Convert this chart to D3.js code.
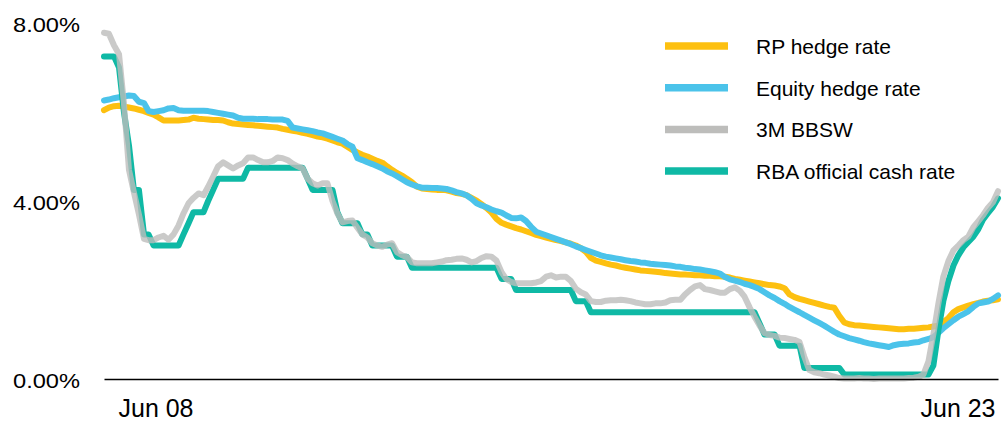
<!DOCTYPE html>
<html>
<head>
<meta charset="utf-8">
<script src="https://cdn.jsdelivr.net/npm/d3@7"></script>
<style>
  html, body { margin: 0; padding: 0; background: #fff; }
  svg { display: block; }
</style>
</head>
<body>
<svg id="chart" width="1002" height="421"></svg>
<script>
// ---- Data (monthly, Jun 2008 .. Jun 2023), values in % ----
const startMonth = "2008-06";
const endMonth = "2023-06";

const seriesNames = ["RP hedge rate", "Equity hedge rate", "3M BBSW", "RBA official cash rate"];

const rpHedge = [
  6.04, 6.10, 6.13, 6.14, 6.12, 6.10, 6.08, 6.05, 6.02, 5.98,
  5.94, 5.88, 5.81, 5.81, 5.81, 5.81, 5.82, 5.83, 5.87, 5.85,
  5.84, 5.83, 5.82, 5.82, 5.81, 5.77, 5.74, 5.73, 5.72, 5.71,
  5.70, 5.69, 5.68, 5.67, 5.66, 5.65, 5.62, 5.60, 5.58, 5.56,
  5.53, 5.51, 5.48, 5.45, 5.43, 5.40, 5.36, 5.32, 5.29, 5.22,
  5.15, 5.09, 5.04, 5.00, 4.95, 4.90, 4.86, 4.78, 4.70, 4.63,
  4.57, 4.50, 4.42, 4.32, 4.28, 4.27, 4.26, 4.25, 4.25, 4.24,
  4.21, 4.18, 4.16, 4.13, 4.07, 4.01, 3.93, 3.84, 3.74, 3.60,
  3.51, 3.47, 3.43, 3.39, 3.36, 3.32, 3.28, 3.24, 3.21, 3.18,
  3.15, 3.12, 3.10, 3.07, 3.04, 3.00, 2.94, 2.86, 2.72, 2.66,
  2.63, 2.60, 2.57, 2.55, 2.52, 2.50, 2.48, 2.46, 2.44, 2.43,
  2.42, 2.41, 2.40, 2.38, 2.37, 2.36, 2.35, 2.35, 2.34, 2.33,
  2.33, 2.32, 2.32, 2.31, 2.31, 2.30, 2.28, 2.25, 2.23, 2.21,
  2.19, 2.17, 2.15, 2.13, 2.11, 2.10, 2.08, 2.04, 1.90, 1.84,
  1.80, 1.77, 1.74, 1.71, 1.68, 1.65, 1.62, 1.60, 1.42, 1.27,
  1.23, 1.21, 1.20, 1.19, 1.18, 1.17, 1.16, 1.15, 1.14, 1.13,
  1.12, 1.12, 1.13, 1.13, 1.14, 1.15, 1.16, 1.18, 1.20, 1.28,
  1.37, 1.50, 1.57, 1.61, 1.65, 1.68, 1.71, 1.74, 1.76, 1.77,
  1.79
];

const equityHedge = [
  6.26, 6.28, 6.31, 6.33, 6.35, 6.37, 6.36, 6.23, 6.20, 6.02,
  6.00, 6.02, 6.04, 6.08, 6.09, 6.04, 6.03, 6.03, 6.03, 6.03,
  6.03, 6.02, 6.00, 5.98, 5.96, 5.94, 5.92, 5.87, 5.85, 5.85,
  5.85, 5.84, 5.84, 5.84, 5.83, 5.83, 5.83, 5.80, 5.65, 5.63,
  5.61, 5.59, 5.57, 5.54, 5.52, 5.48, 5.44, 5.40, 5.36, 5.28,
  5.22, 4.96, 4.92, 4.87, 4.83, 4.78, 4.73, 4.67, 4.62, 4.56,
  4.49, 4.42, 4.37, 4.33, 4.30, 4.30, 4.29, 4.29, 4.28, 4.27,
  4.24, 4.20, 4.17, 4.13, 4.05, 3.95, 3.90, 3.86, 3.81, 3.77,
  3.74, 3.68, 3.62, 3.61, 3.63, 3.55, 3.42, 3.31, 3.27, 3.23,
  3.19, 3.15, 3.11, 3.07, 3.03, 2.98, 2.94, 2.90, 2.86, 2.82,
  2.78, 2.75, 2.73, 2.71, 2.69, 2.67, 2.65, 2.64, 2.62, 2.61,
  2.59, 2.58, 2.57, 2.56, 2.55, 2.53, 2.52, 2.50, 2.49, 2.47,
  2.46, 2.44, 2.42, 2.40, 2.37, 2.29, 2.24, 2.21, 2.18, 2.14,
  2.11, 2.07, 2.02, 1.95, 1.88, 1.82, 1.75, 1.69, 1.62, 1.56,
  1.50, 1.44, 1.38, 1.32, 1.26, 1.20, 1.13, 1.06, 1.00, 0.96,
  0.92, 0.89, 0.86, 0.83, 0.80, 0.78, 0.76, 0.74, 0.72, 0.76,
  0.78, 0.79, 0.80, 0.82, 0.83, 0.87, 0.90, 0.94, 1.04, 1.14,
  1.23, 1.32, 1.40, 1.46, 1.52, 1.62, 1.70, 1.72, 1.74, 1.80,
  1.88
];

const bbsw3m = [
  7.78, 7.76, 7.50, 7.30, 6.20, 4.70, 4.20, 3.70, 3.15, 3.12,
  3.12, 3.18, 3.22, 3.13, 3.25, 3.45, 3.72, 3.95, 4.07, 4.17,
  4.13, 4.32, 4.55, 4.78, 4.87, 4.80, 4.73, 4.80, 4.85, 4.98,
  4.98, 4.92, 4.87, 4.87, 4.90, 4.98, 4.96, 4.92, 4.84, 4.78,
  4.73, 4.50, 4.40, 4.35, 4.40, 4.40, 4.00, 3.72, 3.52, 3.55,
  3.56, 3.40, 3.25, 3.18, 3.05, 3.00, 2.97, 3.02, 3.05, 2.85,
  2.78, 2.74, 2.62, 2.60, 2.60, 2.60, 2.60, 2.62, 2.64, 2.67,
  2.68, 2.70, 2.71, 2.68, 2.62, 2.65, 2.72, 2.76, 2.75, 2.66,
  2.40, 2.25, 2.18, 2.15, 2.15, 2.15, 2.15, 2.17, 2.20, 2.30,
  2.33, 2.28, 2.30, 2.30, 2.20, 2.03, 1.95, 1.90, 1.75, 1.73,
  1.73, 1.76, 1.77, 1.77, 1.78, 1.77, 1.75, 1.72, 1.70, 1.68,
  1.68, 1.70, 1.70, 1.72, 1.77, 1.78, 1.78, 1.90, 2.00, 2.08,
  2.11, 2.02, 2.00, 1.97, 1.94, 1.94, 2.02, 2.06, 1.98, 1.85,
  1.61, 1.40, 1.20, 1.03, 0.99, 0.97, 0.93, 0.92, 0.90, 0.88,
  0.83, 0.50, 0.20, 0.15, 0.13, 0.10, 0.08, 0.05, 0.02, 0.01,
  0.01, 0.01, 0.02, 0.01, 0.01, 0.00, 0.01, 0.01, 0.01, 0.01,
  0.01, 0.01, 0.02, 0.03, 0.05, 0.10, 0.40, 1.00, 1.70, 2.30,
  2.65, 2.89, 3.00, 3.12, 3.20, 3.41, 3.55, 3.68, 3.85, 3.97,
  4.22
];

const rbaCash = [
  7.25, 7.25, 7.25, 7.00, 6.00, 5.25, 4.25, 4.25, 3.25, 3.25,
  3.00, 3.00, 3.00, 3.00, 3.00, 3.00, 3.25, 3.50, 3.75, 3.75,
  3.75, 4.00, 4.25, 4.50, 4.50, 4.50, 4.50, 4.50, 4.50, 4.75,
  4.75, 4.75, 4.75, 4.75, 4.75, 4.75, 4.75, 4.75, 4.75, 4.75,
  4.75, 4.50, 4.25, 4.25, 4.25, 4.25, 4.25, 3.75, 3.50, 3.50,
  3.50, 3.50, 3.25, 3.25, 3.00, 3.00, 3.00, 3.00, 3.00, 2.75,
  2.75, 2.75, 2.50, 2.50, 2.50, 2.50, 2.50, 2.50, 2.50, 2.50,
  2.50, 2.50, 2.50, 2.50, 2.50, 2.50, 2.50, 2.50, 2.50, 2.50,
  2.25, 2.25, 2.25, 2.00, 2.00, 2.00, 2.00, 2.00, 2.00, 2.00,
  2.00, 2.00, 2.00, 2.00, 2.00, 1.75, 1.75, 1.75, 1.50, 1.50,
  1.50, 1.50, 1.50, 1.50, 1.50, 1.50, 1.50, 1.50, 1.50, 1.50,
  1.50, 1.50, 1.50, 1.50, 1.50, 1.50, 1.50, 1.50, 1.50, 1.50,
  1.50, 1.50, 1.50, 1.50, 1.50, 1.50, 1.50, 1.50, 1.50, 1.50,
  1.50, 1.50, 1.25, 1.00, 1.00, 1.00, 0.75, 0.75, 0.75, 0.75,
  0.75, 0.25, 0.25, 0.25, 0.25, 0.25, 0.25, 0.25, 0.25, 0.10,
  0.10, 0.10, 0.10, 0.10, 0.10, 0.10, 0.10, 0.10, 0.10, 0.10,
  0.10, 0.10, 0.10, 0.10, 0.10, 0.10, 0.10, 0.30, 1.10, 1.75,
  2.20, 2.55, 2.78, 2.96, 3.08, 3.20, 3.37, 3.58, 3.73, 3.87,
  4.06
];

const yTicks = [0, 4, 8];
const xTickLabels = ["Jun 08", "Jun 23"];
const colors = ["#FDC010", "#4BC3EA", "#BDBDBB", "#0FB9A5"];

// ---- Setup ----
const parseMonth = d3.timeParse("%Y-%m");
const t0 = parseMonth(startMonth), t1 = parseMonth(endMonth);
const dates = d3.timeMonth.range(t0, d3.timeMonth.offset(t1, 1));

const svg = d3.select("#chart");
const x = d3.scaleTime().domain([t0, t1]).range([104, 998]);
const y = d3.scaleLinear().domain([0, 8]).range([379, 23]);

const seriesValues = [rpHedge, equityHedge, bbsw3m, rbaCash];

// Y-axis labels (no axis line)
const yAxis = d3.axisLeft(y).tickValues(yTicks).tickSize(0).tickPadding(0)
  .tickFormat(d => d3.format(".2f")(d) + "%");
const yg = svg.append("g").attr("transform", "translate(80,0)").call(yAxis);
yg.select(".domain").remove();
yg.selectAll("text")
  .attr("font-family", "'Liberation Sans', Arial, sans-serif")
  .attr("font-size", 21)
  .attr("textLength", 67)
  .attr("lengthAdjust", "spacingAndGlyphs")
  .attr("fill", "#000").attr("dy", "0.4em");

// Lines
const line = d3.line()
  .x((d, i) => x(dates[i]))
  .y(d => y(d))
  .curve(d3.curveLinear);

const drawOrder = [0, 1, 3, 2];
drawOrder.forEach(k => {
  svg.append("path")
    .datum(seriesValues[k])
    .attr("d", line)
    .attr("fill", "none")
    .attr("stroke", colors[k])
    .attr("stroke-width", 6)
    .attr("stroke-linejoin", "round")
    .attr("stroke-linecap", "round")
    .attr("stroke-opacity", k === 2 ? 0.8 : 1);
});

// X axis baseline + labels
const xAxis = d3.axisBottom(x).tickValues([t0, t1]).tickSize(0).tickSizeOuter(0)
  .tickFormat((d, i) => xTickLabels[i]);
const xg = svg.append("g").attr("transform", `translate(0,${y(0)})`).call(xAxis);
xg.select(".domain").attr("stroke", "#000").attr("stroke-width", 1.6);
xg.selectAll(".tick text")
  .attr("font-family", "'Liberation Sans Narrow', 'Arial Narrow', sans-serif")
  .attr("font-size", 25)
  .attr("fill", "#000")
  .attr("y", 38).attr("dy", 0)
  .attr("textLength", 75)
  .attr("lengthAdjust", "spacingAndGlyphs")
  .attr("text-anchor", (d, i) => i === 0 ? "start" : "end")
  .attr("dx", (d, i) => i === 0 ? 14 : -3);

// Legend
const legend = svg.append("g").attr("transform", "translate(665,46)");
seriesNames.forEach((name, i) => {
  const g = legend.append("g").attr("transform", `translate(0,${i * 41.7})`);
  g.append("line").attr("x1", 0).attr("x2", 63).attr("y1", 0).attr("y2", 0)
    .attr("stroke", colors[i]).attr("stroke-width", 7.5);
  g.append("text").attr("x", 91).attr("y", 8)
    .attr("font-family", "'Liberation Sans', Arial, sans-serif")
    .attr("font-size", 21).attr("fill", "#000")
    .text(name);
});
</script>
</body>
</html>
